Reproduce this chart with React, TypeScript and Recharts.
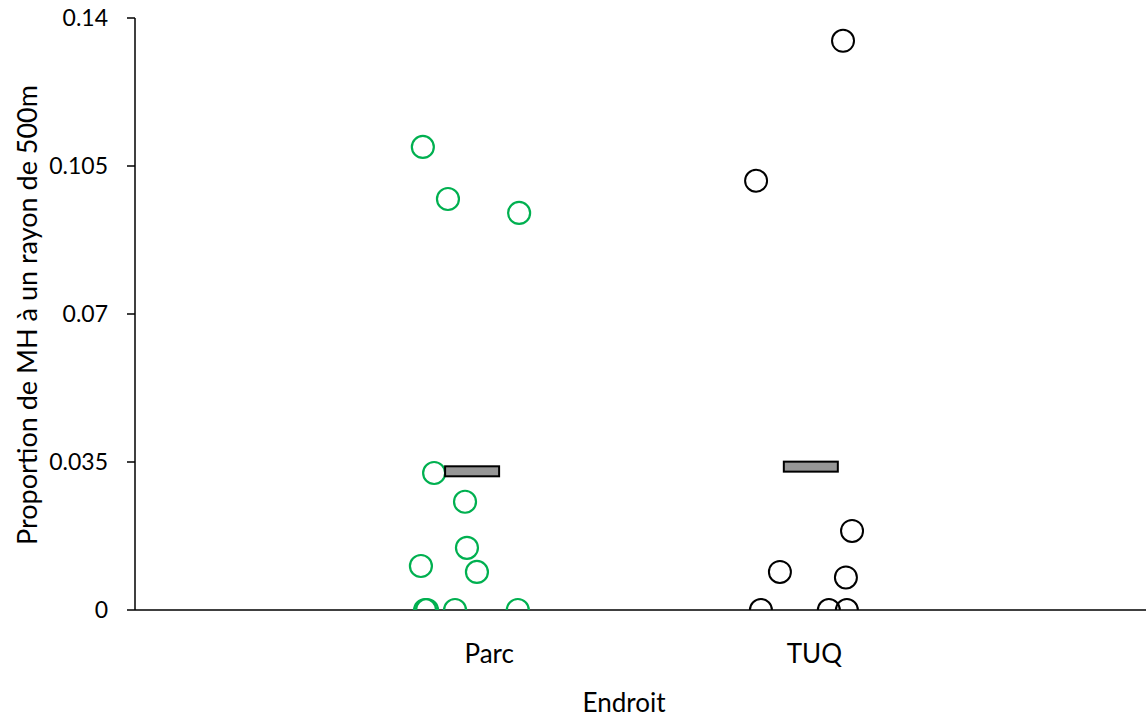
import React from 'react';
import { ScatterChart, Scatter, XAxis, YAxis } from 'recharts';

// Category positions on the numeric x axis
const categories = ['Parc', 'TUQ'];
const categoryPos = [1.1, 2.11];

// Parc (green) points: jittered x and proportion values
const parcX = [0.894, 0.972, 1.193, 0.929, 1.025, 1.031, 0.888, 1.062, 0.901, 0.907, 0.994, 1.189];
const parcY = [0.1095, 0.0972, 0.0939, 0.0324, 0.0256, 0.0147, 0.0104, 0.0090, 0, 0, 0, 0];

// TUQ (black) points
const tuqX = [2.199, 1.929, 2.227, 2.003, 2.208, 1.944, 2.155, 2.211];
const tuqY = [0.1346, 0.1015, 0.0187, 0.0090, 0.0077, 0, 0, 0];

// Median markers
const medianX = [1.047, 2.099];
const medianY = [0.0328, 0.0339];

const yTicks = [0, 0.035, 0.07, 0.105, 0.14];

const parcData = parcX.map((x, i) => ({ x, y: parcY[i] }));
const tuqData = tuqX.map((x, i) => ({ x, y: tuqY[i] }));
const medianData = medianX.map((x, i) => ({ x, y: medianY[i] }));

const FONT = 'Lato, "Open Sans", sans-serif';

const GreenCircle = (p: any) => (
  <circle cx={p.cx} cy={p.cy} r={11} fill="none" stroke="#00B050" strokeWidth={2.2} />
);
const BlackCircle = (p: any) => (
  <circle cx={p.cx} cy={p.cy} r={11} fill="none" stroke="#000000" strokeWidth={2} />
);
const MedianBar = (p: any) => (
  <rect x={p.cx - 27} y={p.cy - 5} width={54} height={10} fill="#969696" stroke="#000000" strokeWidth={2} />
);

const XTick = (p: any) => {
  const idx = categoryPos.indexOf(p.payload.value);
  return (
    <text x={p.x} y={663} textAnchor="middle" fontFamily={FONT} fontSize={26} fill="#000">
      {idx >= 0 ? categories[idx] : ''}
    </text>
  );
};

export default function App() {
  return (
    <div style={{ position: 'absolute', left: 0, top: 0, width: 1146, height: 721, background: '#fff' }}>
      <ScatterChart width={1146} height={721} margin={{ top: 18, right: 0, bottom: 51, left: 55 }}>
        <XAxis
          type="number"
          dataKey="x"
          domain={[0, 3.14]}
          ticks={categoryPos}
          tick={<XTick />}
          tickLine={false}
          axisLine={{ stroke: '#000', strokeWidth: 1.5 }}
          height={60}
          allowDataOverflow
          label={{
            content: () => (
              <text x={624} y={712} textAnchor="middle" fontFamily={FONT} fontSize={26} fill="#000">
                Endroit
              </text>
            ),
          }}
        />
        <YAxis
          type="number"
          dataKey="y"
          domain={[0, 0.14]}
          ticks={yTicks}
          width={80}
          tickSize={8}
          tickMargin={19}
          tickLine={{ stroke: '#000', strokeWidth: 1.5 }}
          axisLine={{ stroke: '#000', strokeWidth: 1.5 }}
          tick={{ fill: '#000', fontFamily: FONT, fontSize: 23 }}
          tickFormatter={(v: number) => String(v)}
          allowDataOverflow
          label={{
            content: () => (
              <text
                x={26}
                y={315}
                transform="rotate(-90 26 315)"
                textAnchor="middle"
                dominantBaseline="central"
                fontFamily={FONT}
                fontSize={27}
                fill="#000"
              >
                Proportion de MH à un rayon de 500m
              </text>
            ),
          }}
        />
        <Scatter data={parcData} shape={GreenCircle} isAnimationActive={false} />
        <Scatter data={tuqData} shape={BlackCircle} isAnimationActive={false} />
        <Scatter data={medianData} shape={MedianBar} isAnimationActive={false} />
      </ScatterChart>
    </div>
  );
}
